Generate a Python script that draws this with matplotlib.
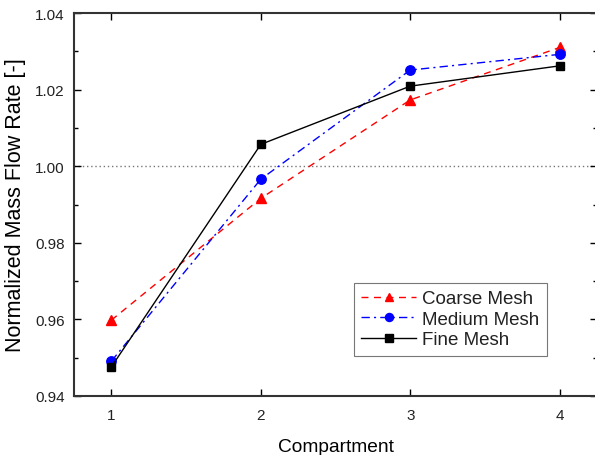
import matplotlib
matplotlib.use('Agg')
import matplotlib.pyplot as plt
from matplotlib.ticker import MultipleLocator

compartment = [1, 2, 3, 4]
coarse = [0.9598, 0.9916, 1.0173, 1.0310]
medium = [0.9491, 0.9966, 1.0251, 1.0292]
fine = [0.9476, 1.0057, 1.0209, 1.0262]

plt.rcParams['font.family'] = ['Liberation Sans', 'DejaVu Sans']
plt.rcParams['text.color'] = '#222222'
plt.rcParams['xtick.labelcolor'] = '#222222'
plt.rcParams['ytick.labelcolor'] = '#222222'

fig = plt.figure(figsize=(5.95, 4.56), dpi=100)
ax = fig.add_axes([74/595, 59/456, 523/595, 383/456])

ax.axhline(1.0, color='#777777', linestyle=(0, (1, 2)), linewidth=1.0, zorder=1)

ax.plot(compartment, coarse, color='red', linestyle=(0, (5, 4)), linewidth=1.0,
        marker='^', markersize=7.5, label='Coarse Mesh')
ax.plot(compartment, medium, color='blue', linestyle=(0, (6, 3, 1.5, 3)), linewidth=1.0,
        marker='o', markersize=6.8, label='Medium Mesh')
ax.plot(compartment, fine, color='black', linestyle='-', linewidth=1.0,
        marker='s', markersize=6, label='Fine Mesh')

ax.set_xlim(0.75, 4.25)
ax.set_ylim(0.94, 1.04)
ax.set_xticks(compartment)
ax.yaxis.set_major_locator(MultipleLocator(0.02))
ax.yaxis.set_minor_locator(MultipleLocator(0.01))
ax.set_yticklabels(['%.2f' % v for v in ax.get_yticks()])

ax.tick_params(which='both', direction='in', top=True, right=True, labelsize=11, width=1.0)
ax.tick_params(which='major', length=5, pad=6.5)
ax.tick_params(which='minor', length=3)
ax.tick_params(axis='x', which='major', pad=8.5)
for s in ax.spines.values():
    s.set_linewidth(1.5)
    s.set_color('#333333')

ax.set_xlabel('Compartment', fontsize=13.8, labelpad=12)
ax.set_ylabel('Normalized Mass Flow Rate [-]', fontsize=15.5, labelpad=7)

leg = ax.legend(loc='lower right', bbox_to_anchor=((547 - 74)/523, (397 - 357)/383),
                fontsize=13.5, fancybox=False, edgecolor='#777777', framealpha=1,
                handlelength=2.9, handletextpad=0.35, borderpad=0.4, labelspacing=0.18,
                borderaxespad=0, markerscale=0.85)
leg.get_frame().set_linewidth(0.8)

fig.savefig('out.png', dpi=100)
